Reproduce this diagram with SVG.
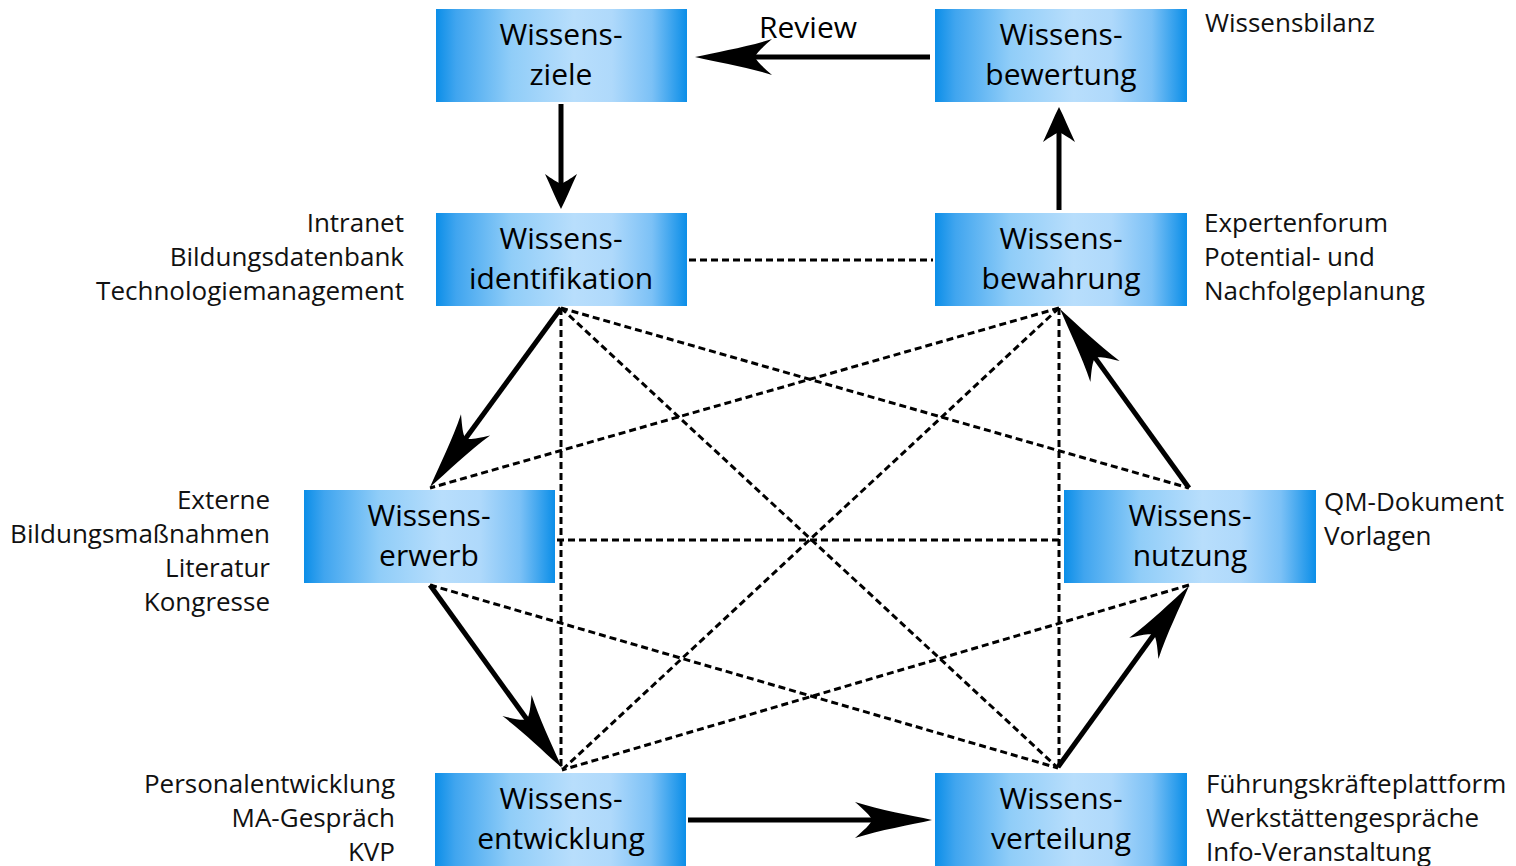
<svg xmlns="http://www.w3.org/2000/svg" width="1516" height="866" viewBox="0 0 1516 866">
  <defs>
    <linearGradient id="boxGrad" x1="0" y1="0" x2="1" y2="0">
      <stop offset="0" stop-color="#0b8ee8"/>
      <stop offset="0.08" stop-color="#40a5ef"/>
      <stop offset="0.3" stop-color="#90cdf8"/>
      <stop offset="0.55" stop-color="#b8defc"/>
      <stop offset="0.7" stop-color="#afd9fb"/>
      <stop offset="0.86" stop-color="#7cc1f6"/>
      <stop offset="1" stop-color="#0b8ee8"/>
    </linearGradient>
    <marker id="bigHead" viewBox="-80 -20 82 40" markerWidth="82" markerHeight="40" refX="-58" refY="0" orient="auto" markerUnits="userSpaceOnUse">
      <path d="M0,0 C-22,-5 -52,-10 -77,-18 C-68,-10 -62,-5 -60,0 C-62,5 -68,10 -77,18 C-52,10 -22,5 0,0 Z" fill="#000"/>
    </marker>
    <marker id="smallHead" viewBox="-40 -20 42 40" markerWidth="42" markerHeight="40" refX="-23" refY="0" orient="auto" markerUnits="userSpaceOnUse">
      <path d="M0,0 C-10,-5 -22,-10 -35,-16 C-30,-9 -27,-4 -25,0 C-27,4 -30,9 -35,16 C-22,10 -10,5 0,0 Z" fill="#000"/>
    </marker>
  </defs>
  <style>
    .box { fill: url(#boxGrad); }
    .lbl { font-family: "Open Sans", "Noto Sans", sans-serif; font-size: 30px; fill: #000; text-anchor: middle; }
    .note { font-family: "Open Sans", "Noto Sans", sans-serif; font-size: 26px; fill: #111; }
    .r { text-anchor: end; }
    .solid { stroke: #000; stroke-width: 5; fill: none; }
    .dash { stroke: #000; stroke-width: 3; stroke-dasharray: 7 4; fill: none; }
  </style>
  <rect width="1516" height="866" fill="#ffffff"/>

  <g id="connectors">
    <line class="dash" x1="689" y1="260" x2="933" y2="260"/>
    <line class="dash" x1="561" y1="308" x2="561" y2="770"/>
    <line class="dash" x1="561" y1="308" x2="1189" y2="488"/>
    <line class="dash" x1="561" y1="308" x2="1058" y2="768"/>
    <line class="dash" x1="1059" y1="308" x2="430" y2="488"/>
    <line class="dash" x1="1059" y1="308" x2="1059" y2="768"/>
    <line class="dash" x1="1059" y1="308" x2="562" y2="770"/>
    <line class="dash" x1="557" y1="540" x2="1062" y2="540"/>
    <line class="dash" x1="430" y1="585" x2="1058" y2="768"/>
    <line class="dash" x1="1189" y1="585" x2="562" y2="770"/>

    <line class="solid" x1="930" y1="57" x2="753" y2="57" marker-end="url(#bigHead)"/>
    <line class="solid" x1="561" y1="104" x2="561" y2="186" marker-end="url(#smallHead)"/>
    <line class="solid" x1="1059" y1="210" x2="1059" y2="130" marker-end="url(#smallHead)"/>
    <line class="solid" x1="561" y1="308" x2="464.3" y2="440.2" marker-end="url(#bigHead)"/>
    <line class="solid" x1="430" y1="585" x2="528.1" y2="721.0" marker-end="url(#bigHead)"/>
    <line class="solid" x1="688" y1="820" x2="874" y2="820" marker-end="url(#bigHead)"/>
    <line class="solid" x1="1058" y1="767" x2="1155.0" y2="633.0" marker-end="url(#bigHead)"/>
    <line class="solid" x1="1189" y1="488" x2="1093.9" y2="356.1" marker-end="url(#bigHead)"/>
    <text class="lbl" x="808" y="38">Review</text>
  </g>

  <g id="node-ziele">
    <rect class="box" x="436" y="9" width="251" height="93"/>
    <text class="lbl" x="561" y="45">Wissens-</text>
    <text class="lbl" x="561" y="85">ziele</text>
  </g>
  <g id="node-bewertung">
    <rect class="box" x="935" y="9" width="252" height="93"/>
    <text class="lbl" x="1061" y="45">Wissens-</text>
    <text class="lbl" x="1061" y="85">bewertung</text>
  </g>
  <g id="node-identifikation">
    <rect class="box" x="436" y="213" width="251" height="93"/>
    <text class="lbl" x="561" y="249">Wissens-</text>
    <text class="lbl" x="561" y="289">identifikation</text>
  </g>
  <g id="node-bewahrung">
    <rect class="box" x="935" y="213" width="252" height="93"/>
    <text class="lbl" x="1061" y="249">Wissens-</text>
    <text class="lbl" x="1061" y="289">bewahrung</text>
  </g>
  <g id="node-erwerb">
    <rect class="box" x="304" y="490" width="251" height="93"/>
    <text class="lbl" x="429" y="526">Wissens-</text>
    <text class="lbl" x="429" y="566">erwerb</text>
  </g>
  <g id="node-nutzung">
    <rect class="box" x="1064" y="490" width="252" height="93"/>
    <text class="lbl" x="1190" y="526">Wissens-</text>
    <text class="lbl" x="1190" y="566">nutzung</text>
  </g>
  <g id="node-entwicklung">
    <rect class="box" x="435" y="773" width="251" height="93"/>
    <text class="lbl" x="561" y="809">Wissens-</text>
    <text class="lbl" x="561" y="849">entwicklung</text>
  </g>
  <g id="node-verteilung">
    <rect class="box" x="935" y="773" width="252" height="93"/>
    <text class="lbl" x="1061" y="809">Wissens-</text>
    <text class="lbl" x="1061" y="849">verteilung</text>
  </g>

  <g id="notes-bewertung">
    <text class="note" x="1205" y="32">Wissensbilanz</text>
  </g>
  <g id="notes-identifikation">
    <text class="note r" x="404" y="232">Intranet</text>
    <text class="note r" x="404" y="266">Bildungsdatenbank</text>
    <text class="note r" x="404" y="300">Technologiemanagement</text>
  </g>
  <g id="notes-bewahrung">
    <text class="note" x="1204" y="232">Expertenforum</text>
    <text class="note" x="1204" y="266">Potential- und</text>
    <text class="note" x="1204" y="300">Nachfolgeplanung</text>
  </g>
  <g id="notes-erwerb">
    <text class="note r" x="270" y="509">Externe</text>
    <text class="note r" x="270" y="543">Bildungsmaßnahmen</text>
    <text class="note r" x="270" y="577">Literatur</text>
    <text class="note r" x="270" y="611">Kongresse</text>
  </g>
  <g id="notes-nutzung">
    <text class="note" x="1324" y="511">QM-Dokument</text>
    <text class="note" x="1324" y="545">Vorlagen</text>
  </g>
  <g id="notes-entwicklung">
    <text class="note r" x="395" y="793">Personalentwicklung</text>
    <text class="note r" x="395" y="827">MA-Gespräch</text>
    <text class="note r" x="395" y="861">KVP</text>
  </g>
  <g id="notes-verteilung">
    <text class="note" x="1206" y="793">Führungskräfteplattform</text>
    <text class="note" x="1206" y="827">Werkstättengespräche</text>
    <text class="note" x="1206" y="861">Info-Veranstaltung</text>
  </g>
</svg>
